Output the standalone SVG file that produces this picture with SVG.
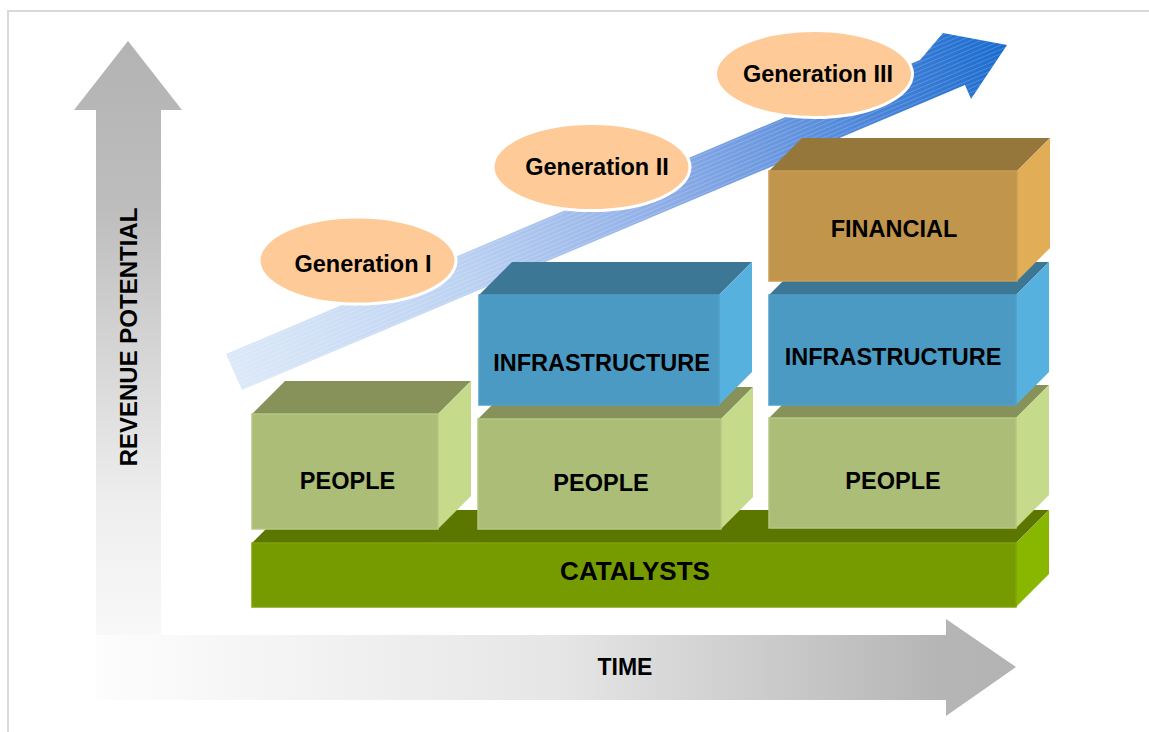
<svg xmlns="http://www.w3.org/2000/svg" width="1149" height="732" viewBox="0 0 1149 732">
  <defs>
    <linearGradient id="gV" x1="0" y1="41" x2="0" y2="700" gradientUnits="userSpaceOnUse">
      <stop offset="0" stop-color="#b3b3b3"/>
      <stop offset="0.25" stop-color="#bdbdbd"/>
      <stop offset="0.7" stop-color="#eeeeee"/>
      <stop offset="1" stop-color="#fdfdfd"/>
    </linearGradient>
    <linearGradient id="gH" x1="96" y1="0" x2="1016" y2="0" gradientUnits="userSpaceOnUse">
      <stop offset="0" stop-color="#fdfdfd"/>
      <stop offset="0.5" stop-color="#e6e6e6"/>
      <stop offset="0.92" stop-color="#b5b5b5"/>
      <stop offset="1" stop-color="#b3b3b3"/>
    </linearGradient>
    <linearGradient id="gB" x1="226" y1="372" x2="1007" y2="45" gradientUnits="userSpaceOnUse">
      <stop offset="0" stop-color="#dde9f8"/>
      <stop offset="0.3" stop-color="#bcd2f2"/>
      <stop offset="0.55" stop-color="#8faee7"/>
      <stop offset="0.8" stop-color="#5088da"/>
      <stop offset="1" stop-color="#196bcf"/>
    </linearGradient>
    <pattern id="hatch" width="4" height="4" patternUnits="userSpaceOnUse" patternTransform="rotate(-23)">
      <rect width="4" height="1" fill="#ffffff" fill-opacity="0.18"/>
    </pattern>
  </defs>
  <style>
    .lbl { font-family: "Liberation Sans", Arial, sans-serif; font-weight: bold; fill: #000; text-anchor: middle; }
    .gen { fill: #fecb98; stroke: #ffffff; stroke-width: 3; }
    .pF { fill: #abbd76; stroke: #b6c783; stroke-width: 1.5; }
    .pT { fill: #86925a; }
    .pS { fill: #c5da8a; }
    .cF { fill: #769b00; stroke: #7fa30a; stroke-width: 1.5; }
    .cT { fill: #5c7700; }
    .cS { fill: #89b700; }
    .iF { fill: #4b9ac3; stroke: #4f9fc9; stroke-width: 1.5; }
    .iT { fill: #3c7796; }
    .iS { fill: #57b1df; }
    .fF { fill: #c2954c; stroke: #c99d55; stroke-width: 1.5; }
    .fT { fill: #95763b; }
    .fS { fill: #e1ae57; }
  </style>

  <rect x="8" y="11" width="1200" height="800" fill="#ffffff" stroke="#d9d9d9" stroke-width="2"/>

  <g id="axes">
    <polygon id="axis-revenue" points="128,41 182,110 161,110 161,700 96,700 96,110 74,110" fill="url(#gV)"/>
    <polygon id="axis-time" points="96,635 946,635 946,619 1016,667 946,716 946,700 96,700" fill="url(#gH)"/>
    <text class="lbl" x="137" y="337" font-size="24" transform="rotate(-90 137 337)">REVENUE POTENTIAL</text>
    <text class="lbl" x="625" y="675" font-size="23">TIME</text>
  </g>

  <g id="growth-arrow">
    <polygon points="226,354 920,60 943,33 1007,45 971,99 965,85 242,390" fill="url(#gB)"/>
    <polygon points="226,354 920,60 943,33 1007,45 971,99 965,85 242,390" fill="url(#hatch)"/>
  </g>

  <g id="gen1">
    <ellipse class="gen" cx="357.5" cy="260.5" rx="98.5" ry="43.5"/>
    <text class="lbl" x="363" y="272" font-size="23.5">Generation I</text>
  </g>
  <g id="gen2">
    <ellipse class="gen" cx="591.5" cy="167" rx="98.5" ry="43.5"/>
    <text class="lbl" x="597" y="175" font-size="23.5">Generation II</text>
  </g>
  <g id="gen3">
    <ellipse class="gen" cx="814" cy="74" rx="98.5" ry="43.5"/>
    <text class="lbl" x="818" y="82" font-size="23.5">Generation III</text>
  </g>

  <g id="catalysts">
    <polygon class="cT" points="252,543 285,510 1049,510 1016,543"/>
    <polygon class="cS" points="1016,543 1049,510 1049,574 1016,607"/>
    <rect class="cF" x="252" y="543" width="764" height="64"/>
    <text class="lbl" x="635" y="580" font-size="26">CATALYSTS</text>
  </g>

  <g id="people1">
    <polygon class="pT" points="252,414 285,381 471,381 438,414"/>
    <polygon class="pS" points="438,414 471,381 471,496 438,529"/>
    <rect class="pF" x="252" y="414" width="186" height="115"/>
    <text class="lbl" x="347.5" y="489" font-size="23.5">PEOPLE</text>
  </g>
  <g id="people2">
    <polygon class="pT" points="478,419 510,387 753,387 721,419"/>
    <polygon class="pS" points="721,419 753,387 753,497 721,529"/>
    <rect class="pF" x="478" y="419" width="243" height="110"/>
    <text class="lbl" x="601" y="491" font-size="23.5">PEOPLE</text>
  </g>
  <g id="people3">
    <polygon class="pT" points="769,418 802,385 1049,385 1016,418"/>
    <polygon class="pS" points="1016,418 1049,385 1049,495 1016,528"/>
    <rect class="pF" x="769" y="418" width="247" height="110"/>
    <text class="lbl" x="893" y="489" font-size="23.5">PEOPLE</text>
  </g>

  <g id="infra2">
    <polygon class="iT" points="479,295 512,262 752,262 719,295"/>
    <polygon class="iS" points="719,295 752,262 752,372 719,405"/>
    <rect class="iF" x="479" y="295" width="240" height="110"/>
    <text class="lbl" x="601.5" y="371" font-size="23.5">INFRASTRUCTURE</text>
  </g>
  <g id="infra3">
    <polygon class="iT" points="769,295 802,262 1049,262 1016,295"/>
    <polygon class="iS" points="1016,295 1049,262 1049,372 1016,405"/>
    <rect class="iF" x="769" y="295" width="247" height="110"/>
    <text class="lbl" x="893" y="365" font-size="23.5">INFRASTRUCTURE</text>
  </g>

  <g id="financial">
    <polygon class="fT" points="769,171 802,138 1050,138 1017,171"/>
    <polygon class="fS" points="1017,171 1050,138 1050,248 1017,281"/>
    <rect class="fF" x="769" y="171" width="248" height="110"/>
    <text class="lbl" x="894" y="237" font-size="23.5">FINANCIAL</text>
  </g>
</svg>
